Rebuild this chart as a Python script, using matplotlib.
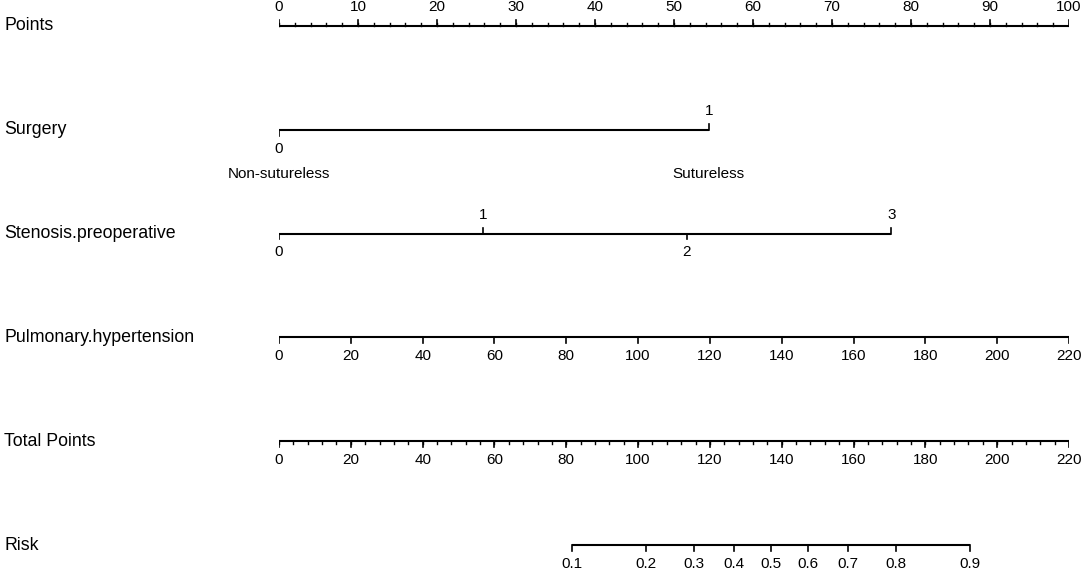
# nomogram for the sutureless surgery risk model
import numpy as np
import matplotlib
matplotlib.use('Agg')
import matplotlib.pyplot as plt
from matplotlib import transforms

plt.rcParams['font.family'] = ['Liberation Sans', 'DejaVu Sans']

# row names, top to bottom
row_names = ['Points', 'Surgery', 'Stenosis.preoperative',
             'Pulmonary.hypertension', 'Total Points', 'Risk']

# points scale
points_major = np.arange(0, 101, 10)
points_minor = np.arange(0, 101, 2)

# surgery
surgery_levels = ['0', '1']
surgery_points = [0, 54.4]
surgery_names = ['Non-sutureless', 'Sutureless']

# stenosis preoperative
stenosis_levels = ['0', '1', '2', '3']
stenosis_points = [0, 25.8, 51.6, 77.5]

# pulmonary hypertension, 220 -> 100 points
pulm_values = np.arange(0, 221, 20)
pulm_max_points = 100.0

# total points
total_major = np.arange(0, 221, 20)
total_minor = np.arange(0, 221, 4)
total_max = 220.0

# risk, logistic mapping of total points
risk_values = [0.1, 0.2, 0.3, 0.4, 0.5, 0.6, 0.7, 0.8, 0.9]
risk_center = 137.0   # total points at risk 0.5
risk_scale = 25.2     # total points per logit unit


def tp_to_x(tp):
    return np.asarray(tp, dtype=float) * 100.0 / total_max


def draw_scale(ax, row, xs, labels, sides, minor=None, major_len=0.055, minor_len=0.03, pad=13.5):
    ax.plot([min(xs), max(xs)], [row, row], color='black', lw=1.5, solid_capstyle='butt')
    if minor is not None:
        for m in minor:
            # minor ticks on the same side as the first major tick
            d = -minor_len if sides[0] == 'up' else minor_len
            ax.plot([m, m], [row, row + d], color='black', lw=1.0)
    for x, lab, s in zip(xs, labels, sides):
        d = -major_len if s == 'up' else major_len
        ax.plot([x, x], [row, row + d], color='black', lw=1.2)
        off = pad if s == 'up' else -pad
        ax.annotate(lab, (x, row), xytext=(0, off), textcoords='offset points',
                    ha='center', va='center', fontsize=11)


fig = plt.figure(figsize=(10.84, 5.72), dpi=100)
ax = fig.add_axes([279 / 1084, 0, 790 / 1084, 1])
ax.set_xlim(0, 100)
ax.set_ylim((572 - 26) / 103.8, -26 / 103.8)
ax.axis('off')

# Points
draw_scale(ax, 0, points_major, [str(v) for v in points_major], ['up'] * len(points_major),
           minor=points_minor)

# Surgery
draw_scale(ax, 1, surgery_points, surgery_levels, ['down', 'up'])
for x, name in zip(surgery_points, surgery_names):
    ax.annotate(name, (x, 1), xytext=(0, -32), textcoords='offset points',
                ha='center', va='center', fontsize=11)

# Stenosis
draw_scale(ax, 2, stenosis_points, stenosis_levels, ['down', 'up', 'down', 'up'])

# Pulmonary hypertension
draw_scale(ax, 3, pulm_values * pulm_max_points / pulm_values.max(),
           [str(v) for v in pulm_values], ['down'] * len(pulm_values))

# Total points
draw_scale(ax, 4, tp_to_x(total_major), [str(v) for v in total_major],
           ['down'] * len(total_major), minor=tp_to_x(total_minor))

# Risk
risk_tp = risk_center + risk_scale * np.log(np.array(risk_values) / (1 - np.array(risk_values)))
draw_scale(ax, 5, tp_to_x(risk_tp), [str(v) for v in risk_values], ['down'] * len(risk_values))

# row names on the left
trans = transforms.blended_transform_factory(fig.transFigure, ax.transData)
for i, name in enumerate(row_names):
    ax.text(4 / 1084, i, name, transform=trans, ha='left', va='center', fontsize=12.8)

fig.savefig('out.png', dpi=100)
